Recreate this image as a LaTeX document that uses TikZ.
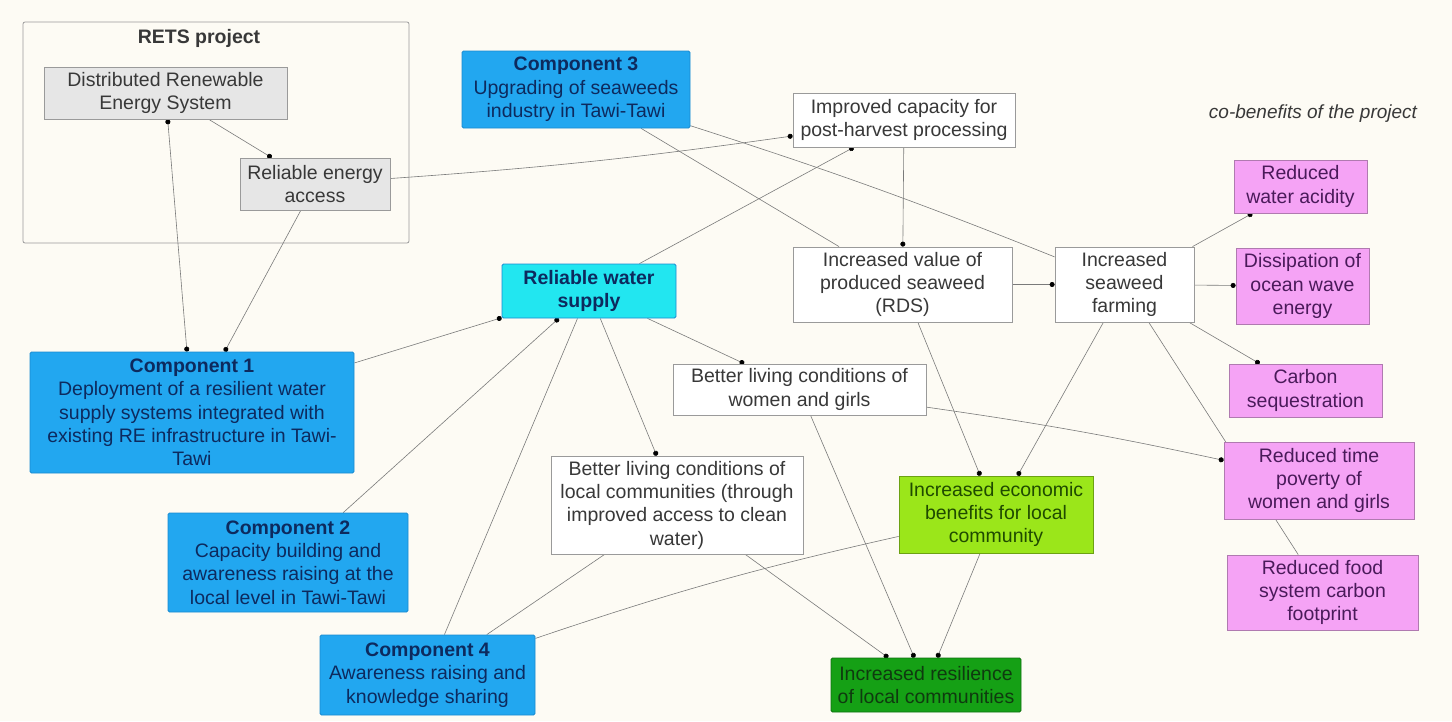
\documentclass[tikz,border=0pt]{standalone}
\usepackage{fontspec}
\setmainfont{Liberation Sans}
\usetikzlibrary{arrows.meta, positioning, backgrounds}

\definecolor{paper}{HTML}{FDFBF4}
\definecolor{linkgray}{HTML}{7A7A7A}
\definecolor{boxline}{HTML}{9A9A9A}
\definecolor{textgray}{HTML}{383838}
\definecolor{greyfill}{HTML}{E6E6E6}
\definecolor{compblue}{HTML}{22A7F0}
\definecolor{compline}{HTML}{1A8AD0}
\definecolor{compnavy}{HTML}{0D2A5E}
\definecolor{watercyan}{HTML}{22E6F0}
\definecolor{pinkfill}{HTML}{F5A3F5}
\definecolor{pinkline}{HTML}{B07AB0}
\definecolor{pinktext}{HTML}{4A1A5A}
\definecolor{limefill}{HTML}{9BE61A}
\definecolor{limetext}{HTML}{1F4A00}
\definecolor{greenfill}{HTML}{15A015}
\definecolor{greentext}{HTML}{0F3A0F}

\tikzset{
  box/.style={draw=boxline, line width=0.8pt, rectangle, align=center,
    inner sep=2pt, text=textgray, font=\fontsize{19.5}{23.3}\selectfont},
  greybox/.style={box, fill=greyfill},
  plainbox/.style={box, fill=white},
  compbox/.style={box, draw=compline, fill=compblue, text=compnavy,
    rounded corners=1.5pt},
  pinkbox/.style={box, draw=pinkline, fill=pinkfill, text=pinktext},
  link/.style={draw=linkgray, line width=0.6pt},
  dot/.style={link, -{Circle[length=5pt, color=black]}},
}

\begin{document}
\begin{tikzpicture}[x=1pt, y=-1pt]
  \useasboundingbox (0,0) rectangle (1452,721);

  % RETS project
  \node[font=\fontsize{19.5}{23.3}\selectfont\bfseries, text=textgray]
    (rets) at (199,38) {RETS project};
  \node[greybox, minimum width=243, minimum height=52] (dres) at (165.5,93)
    {Distributed Renewable\\Energy System};
  \node[greybox, minimum width=150, minimum height=52] (rea) at (315,184)
    {Reliable energy\\access};

  % project components
  \node[compbox, minimum width=324, minimum height=121] (comp1) at (192,412.5)
    {\textbf{Component 1}\\Deployment of a resilient water\\supply systems integrated with\\existing RE infrastructure in Tawi-\\Tawi};
  \node[compbox, minimum width=240, minimum height=99] (comp2) at (288,562.5)
    {\textbf{Component 2}\\Capacity building and\\awareness raising at the\\local level in Tawi-Tawi};
  \node[compbox, minimum width=228, minimum height=77] (comp3) at (576,89.5)
    {\textbf{Component 3}\\Upgrading of seaweeds\\industry in Tawi-Tawi};
  \node[compbox, minimum width=215, minimum height=80] (comp4) at (427.5,675)
    {\textbf{Component 4}\\Awareness raising and\\knowledge sharing};
  \node[compbox, fill=watercyan, minimum width=174, minimum height=54] (rws) at (589,291)
    {\textbf{Reliable water}\\\textbf{supply}};

  % outcomes
  \node[plainbox, minimum width=222, minimum height=54] (ic) at (904,120)
    {Improved capacity for\\post-harvest processing};
  \node[plainbox, minimum width=219, minimum height=75] (ivs) at (902.5,284.5)
    {Increased value of\\produced seaweed\\(RDS)};
  \node[plainbox, minimum width=139, minimum height=75] (isf) at (1124.5,284.5)
    {Increased\\seaweed\\farming};
  \node[plainbox, minimum width=253, minimum height=51] (blwg) at (799.5,389.5)
    {Better living conditions of\\women and girls};
  \node[plainbox, minimum width=252, minimum height=98] (blc) at (677,505)
    {Better living conditions of\\local communities (through\\improved access to clean\\water)};
  \node[box, fill=limefill, text=limetext, draw=limefill!70!black,
    minimum width=194, minimum height=77] (ieb) at (996,514.5)
    {Increased economic\\benefits for local\\community};
  \node[box, fill=greenfill, text=greentext, draw=greenfill!70!black,
    rounded corners=1.5pt, minimum width=190, minimum height=54] (ir) at (926,685)
    {Increased resilience\\of local communities};

  % co-benefits
  \node[font=\fontsize{19}{23}\selectfont\itshape, text=textgray]
    (cob) at (1313,114) {co-benefits of the project};
  \node[pinkbox, minimum width=133, minimum height=53] (rwa) at (1300.5,186.5)
    {Reduced\\water acidity};
  \node[pinkbox, minimum width=133, minimum height=76] (dis) at (1302.5,286)
    {Dissipation of\\ocean wave\\energy};
  \node[pinkbox, minimum width=153, minimum height=53] (cs) at (1305.5,390.5)
    {Carbon\\sequestration};
  \node[pinkbox, minimum width=191, minimum height=75] (rfs) at (1322.5,592.5)
    {Reduced food\\system carbon\\footprint};
  \node[pinkbox, minimum width=190, minimum height=77] (rtp) at (1319,480.5)
    {Reduced time\\poverty of\\women and girls};

  % links, kept behind the boxes
  \begin{scope}[on background layer]
    \fill[paper] (0,0) rectangle (1452,721);
    \draw[boxline, line width=0.8pt, rounded corners=2pt]
      (23,22) rectangle (409,243);
    \draw[link, {Circle[length=5pt, color=black]}-{Circle[length=5pt, color=black]}]
      (dres) -- (comp1);
    \draw[dot] (dres) -- (rea);
    \draw[dot] (rea) -- (comp1);
    \draw[dot] (rea) to[bend right=2] (ic);
    \draw[dot] (comp1) -- (rws);
    \draw[dot] (comp2) -- (rws);
    \draw[link] (comp4) -- (rws);
    \draw[link] (comp4) -- (blc);
    \draw[link] (comp4) to[bend left=3] (ieb);
    \draw[link] (comp3) -- (ivs);
    \draw[link] (comp3) to[bend left=2] (isf);
    \draw[dot] (rws) -- (ic);
    \draw[dot] (rws) -- (blwg);
    \draw[dot] (rws) -- (blc);
    \draw[dot] (ic) -- (ivs);
    \draw[dot] (ivs) -- (isf);
    \draw[dot] (ivs) -- (ieb);
    \draw[dot] (isf) -- (rwa);
    \draw[dot] (isf) -- (dis);
    \draw[dot] (isf) -- (cs);
    \draw[dot] (isf) -- (ieb);
    \draw[link] (isf) -- (rfs);
    \draw[dot] (blwg) to[bend left=2] (rtp);
    \draw[dot] (blwg) -- (ir);
    \draw[dot] (blc) -- (ir);
    \draw[dot] (ieb) -- (ir);
  \end{scope}
\end{tikzpicture}
\end{document}
